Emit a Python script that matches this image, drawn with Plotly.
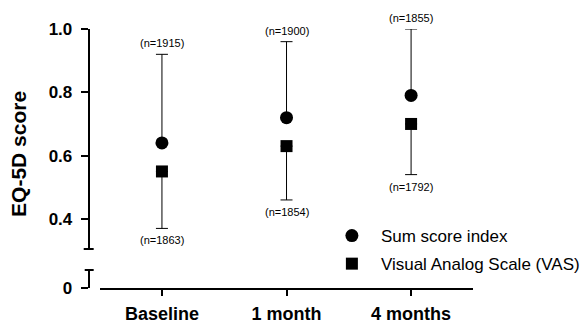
import plotly.graph_objects as go

categories = ["Baseline", "1 month", "4 months"]
sum_index = [0.64, 0.72, 0.79]
sum_upper = [0.92, 0.96, 1.00]
vas = [0.55, 0.63, 0.70]
vas_lower = [0.37, 0.46, 0.54]
n_sum = [1915, 1900, 1855]
n_vas = [1863, 1854, 1792]

W, H = 585, 322
FONT = "Arial, Liberation Sans, sans-serif"
xpos = list(range(len(categories)))

fig = go.Figure()
fig.add_trace(go.Scatter(
    x=xpos, y=sum_index, mode="markers", name="Sum score index",
    legendgroup="a",
    marker=dict(symbol="circle", size=13, color="black"),
    error_y=dict(type="data", symmetric=False,
                 array=[u - v for u, v in zip(sum_upper, sum_index)],
                 arrayminus=[0] * 3, color="black", thickness=1, width=6),
    cliponaxis=False, hoverinfo="skip",
))
fig.add_trace(go.Scatter(
    x=xpos, y=vas, mode="markers", name="Visual Analog Scale (VAS)",
    legendgroup="b",
    marker=dict(symbol="square", size=12, color="black"),
    error_y=dict(type="data", symmetric=False,
                 array=[0] * 3,
                 arrayminus=[v - l for v, l in zip(vas, vas_lower)],
                 color="black", thickness=1, width=6),
    cliponaxis=False, hoverinfo="skip",
))
# empty helper trace so the lower (broken) y-axis segment is created
fig.add_trace(go.Scatter(x=[], y=[], xaxis="x", yaxis="y2", showlegend=False,
                         hoverinfo="skip"))

annotations = []
for i in xpos:
    annotations.append(dict(x=i, y=sum_upper[i], xref="x", yref="y",
                            text=f"(n={n_sum[i]})", showarrow=False, yshift=11,
                            font=dict(family=FONT, size=11, color="black")))
    annotations.append(dict(x=i, y=vas_lower[i], xref="x", yref="y",
                            text=f"(n={n_vas[i]})", showarrow=False, yshift=-12,
                            font=dict(family=FONT, size=11, color="black")))
annotations.append(dict(x=18 / W, y=1 - 154 / H, xref="paper", yref="paper",
                        xanchor="center", yanchor="middle",
                        text="EQ-5D score", textangle=-90, showarrow=False,
                        font=dict(family=FONT, size=21, color="black", weight="bold")))

axis_x = 89 / W
shapes = [
    dict(type="line", xref="paper", yref="y domain", x0=84 / W, x1=94 / W, y0=0, y1=0,
         line=dict(color="black", width=2)),
    dict(type="line", xref="paper", yref="y2 domain", x0=85 / W, x1=94 / W, y0=1, y1=1,
         line=dict(color="black", width=2)),
]

fig.update_layout(
    width=W, height=H, autosize=False,
    margin=dict(l=0, r=0, t=0, b=0),
    plot_bgcolor="white", paper_bgcolor="white",
    font=dict(family=FONT, color="black"),
    xaxis=dict(domain=[100 / W, 475 / W], range=[-0.5, 2.5], anchor="y2",
               showline=True, linewidth=2, linecolor="black",
               ticks="outside", ticklen=6, tickwidth=2, tickcolor="black",
               tickvals=xpos, ticktext=categories,
               tickfont=dict(family=FONT, size=18, color="black", weight="bold"),
               showgrid=False, zeroline=False, automargin=False, ticklabelstandoff=2),
    yaxis=dict(domain=[1 - 249 / H, 1 - 29 / H], range=[0.305, 1.0], anchor="free",
               position=axis_x,
               showline=True, linewidth=2, linecolor="black",
               ticks="outside", ticklen=7, tickwidth=2, tickcolor="black",
               tickvals=[0.4, 0.6, 0.8, 1.0], ticktext=["0.4", "0.6", "0.8", "1.0"],
               tickfont=dict(family=FONT, size=17, color="black", weight="bold"),
               showgrid=False, zeroline=False, automargin=False, ticklabelstandoff=5),
    yaxis2=dict(domain=[1 - 288 / H, 1 - 270 / H], range=[0, 0.05], anchor="free",
                position=axis_x,
                showline=True, linewidth=2, linecolor="black",
                ticks="outside", ticklen=7, tickwidth=2, tickcolor="black",
                tickvals=[0], ticktext=["0"],
                tickfont=dict(family=FONT, size=17, color="black", weight="bold"),
                showgrid=False, zeroline=False, automargin=False, ticklabelstandoff=5),
    showlegend=True,
    legend=dict(x=324 / W, y=1 - 218 / H, xanchor="left", yanchor="top",
                font=dict(family=FONT, size=17, color="black"),
                itemwidth=48, traceorder="grouped", tracegroupgap=3,
                bgcolor="rgba(0,0,0,0)"),
    annotations=annotations,
    shapes=shapes,
)

fig.write_html("out.html", config={"displayModeBar": False},
               post_script="document.body.style.margin='0';document.body.style.overflow='hidden';")
